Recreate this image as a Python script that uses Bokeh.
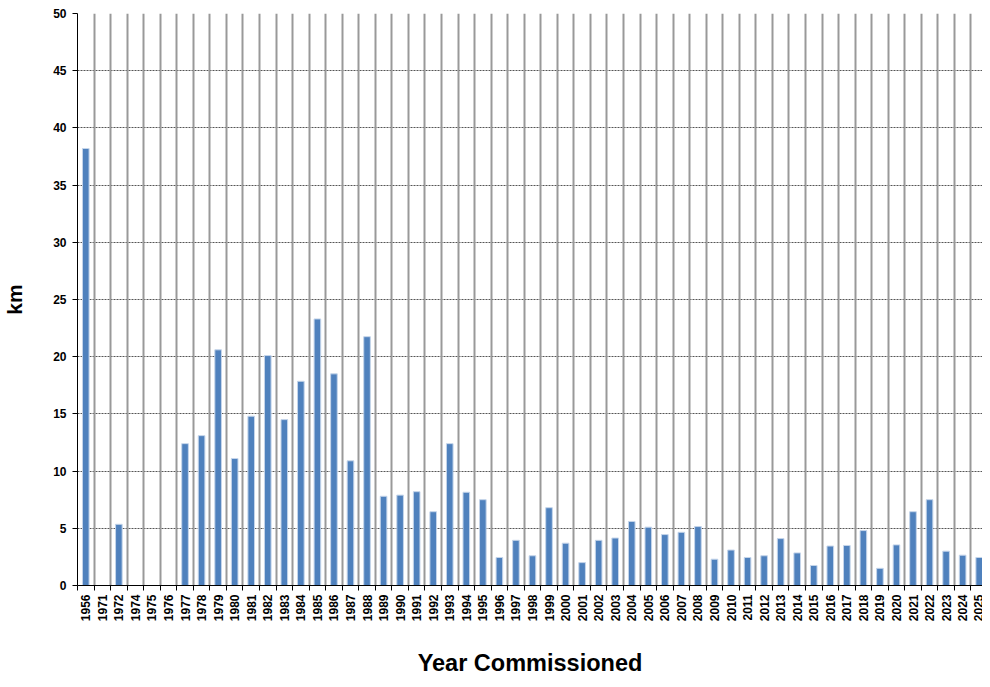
import math
from bokeh.plotting import figure
from bokeh.models import Range1d, FixedTicker, Grid
from bokeh.embed import file_html
from bokeh.resources import INLINE

years = ["1956", "1971", "1972", "1974", "1975", "1976", "1977", "1978", "1979", "1980",
         "1981", "1982", "1983", "1984", "1985", "1986", "1987", "1988", "1989", "1990",
         "1991", "1992", "1993", "1994", "1995", "1996", "1997", "1998", "1999", "2000",
         "2001", "2002", "2003", "2004", "2005", "2006", "2007", "2008", "2009", "2010",
         "2011", "2012", "2013", "2014", "2015", "2016", "2017", "2018", "2019", "2020",
         "2021", "2022", "2023", "2024", "2025"]
km = [38.2, 0, 5.35, 0, 0, 0, 12.4, 13.1, 20.6, 11.1,
      14.8, 20.1, 14.5, 17.85, 23.3, 18.5, 10.9, 21.75, 7.8, 7.9,
      8.2, 6.45, 12.4, 8.15, 7.5, 2.45, 3.95, 2.6, 6.8, 3.7,
      2.0, 3.95, 4.15, 5.6, 5.1, 4.45, 4.65, 5.15, 2.3, 3.1,
      2.45, 2.6, 4.1, 2.85, 1.75, 3.45, 3.5, 4.8, 1.5, 3.55,
      6.45, 7.5, 3.0, 2.65, 2.45]
y_ticks = [0, 5, 10, 15, 20, 25, 30, 35, 40, 45, 50]

n = len(years)
centers = [i + 0.5 for i in range(n)]
bounds = [float(i) for i in range(n + 1)]

FONT = "Liberation Sans"

p = figure(width=982, height=679, output_backend="svg", toolbar_location=None,
           x_range=Range1d(0, n - 0.3), y_range=Range1d(0, 50),
           min_border_left=73, min_border_right=0, min_border_top=13, min_border_bottom=94)
p.outline_line_color = None
p.background_fill_color = "white"

# grids
p.xgrid.visible = False
p.ygrid.ticker = FixedTicker(ticks=y_ticks)
p.ygrid.grid_line_color = "#555555"
p.ygrid.grid_line_dash = "2 1"
p.ygrid.grid_line_width = 1
vgrid = Grid(dimension=0, ticker=FixedTicker(ticks=bounds),
             grid_line_color="#999999", grid_line_width=2)
p.add_layout(vgrid)

p.vbar(x=centers, top=km, width=0.4, fill_color="#4F81BD", line_color="#C5D5EA", line_width=1)

# x axis
xa = p.xaxis[0]
xa.ticker = FixedTicker(ticks=centers, minor_ticks=bounds)
xa.major_label_overrides = {c: y for c, y in zip(centers, years)}
xa.major_label_orientation = math.pi / 2
xa.major_tick_out = 0
xa.major_tick_in = 0
xa.minor_tick_out = 5
xa.minor_tick_in = 0
xa.minor_tick_line_color = "black"
xa.axis_line_color = "black"
xa.major_label_text_font = FONT
xa.major_label_text_font_style = "bold"
xa.major_label_text_font_size = "12px"
xa.major_label_text_color = "black"
xa.major_label_standoff = 4
xa.axis_label = "Year Commissioned"
xa.axis_label_text_font = FONT
xa.axis_label_text_font_style = "bold"
xa.axis_label_text_font_size = "23.5px"
xa.axis_label_text_color = "black"
xa.axis_label_standoff = 26

# y axis
ya = p.yaxis[0]
ya.ticker = FixedTicker(ticks=y_ticks)
ya.major_tick_out = 5
ya.major_tick_in = 0
ya.minor_tick_out = 0
ya.minor_tick_in = 0
ya.axis_line_color = "black"
ya.major_label_text_font = FONT
ya.major_label_text_font_style = "bold"
ya.major_label_text_font_size = "12px"
ya.major_label_text_color = "black"
ya.major_label_standoff = 6
ya.axis_label = "km"
ya.axis_label_text_font = FONT
ya.axis_label_text_font_style = "bold"
ya.axis_label_text_font_size = "21px"
ya.axis_label_text_color = "black"
ya.axis_label_standoff = 24

open("out.html", "w").write(file_html(p, INLINE))
